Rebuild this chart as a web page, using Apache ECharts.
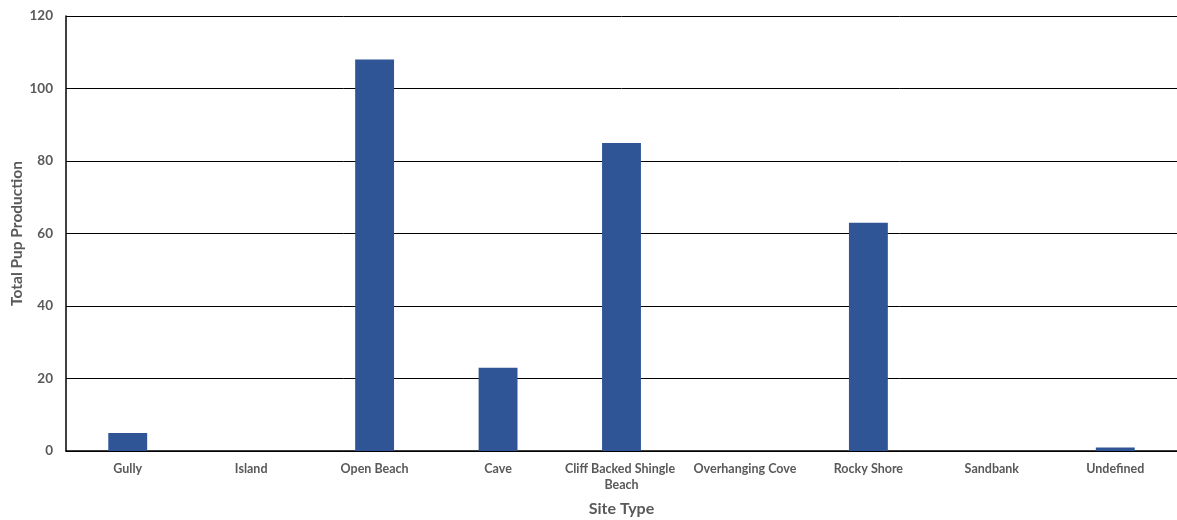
<!DOCTYPE html>
<html>
<head>
<meta charset="utf-8">
<script src="https://cdn.jsdelivr.net/npm/echarts@6/dist/echarts.min.js"></script>
<style>
  html, body { margin: 0; padding: 0; background: #fff; }
  #chart { width: 1177px; height: 520px; }
</style>
</head>
<body>
<div id="chart"></div>
<script>
// Pup production by site type
const siteTypes = ['Gully', 'Island', 'Open Beach', 'Cave', 'Cliff Backed Shingle Beach', 'Overhanging Cove', 'Rocky Shore', 'Sandbank', 'Undefined'];
const pupCounts = [5, 0, 108, 23, 85, 0, 63, 0, 1];
const yTicks = { min: 0, max: 120, interval: 20 };

const textColor = '#595959';
const fontFamily = 'Lato, "Open Sans", sans-serif';

const chart = echarts.init(document.getElementById('chart'));
chart.setOption({
  animation: false,
  grid: { left: 66, right: 0, top: 16, bottom: 69, containLabel: false, outerBoundsMode: 'none' },
  xAxis: {
    type: 'category',
    data: siteTypes,
    name: 'Site Type',
    nameLocation: 'middle',
    nameGap: 50,
    nameMoveOverlap: false,
    nameTextStyle: { color: textColor, fontSize: 16, fontWeight: 'bold', fontFamily },
    axisLine: { lineStyle: { color: '#000', width: 1.5 } },
    axisTick: { show: false },
    axisLabel: {
      color: textColor, fontSize: 12.5, fontWeight: 'bold', fontFamily,
      margin: 10, interval: 0, width: 122, overflow: 'break', lineHeight: 16
    }
  },
  yAxis: {
    type: 'value',
    min: yTicks.min, max: yTicks.max, interval: yTicks.interval,
    name: 'Total Pup Production',
    nameLocation: 'middle',
    nameGap: 41,
    nameMoveOverlap: false,
    nameTextStyle: { color: textColor, fontSize: 15.5, fontWeight: 'bold', fontFamily },
    axisLine: { show: true, lineStyle: { color: '#000', width: 1.5 } },
    axisTick: { show: true, inside: true, length: 4, lineStyle: { color: '#000' } },
    axisLabel: { color: textColor, fontSize: 13.5, fontWeight: 'bold', fontFamily, margin: 13 },
    splitLine: { lineStyle: { color: '#000', width: 1 } }
  },
  series: [{
    type: 'bar',
    data: pupCounts,
    barWidth: '31.5%',
    itemStyle: { color: '#2F5597' }
  }]
});
</script>
</body>
</html>
